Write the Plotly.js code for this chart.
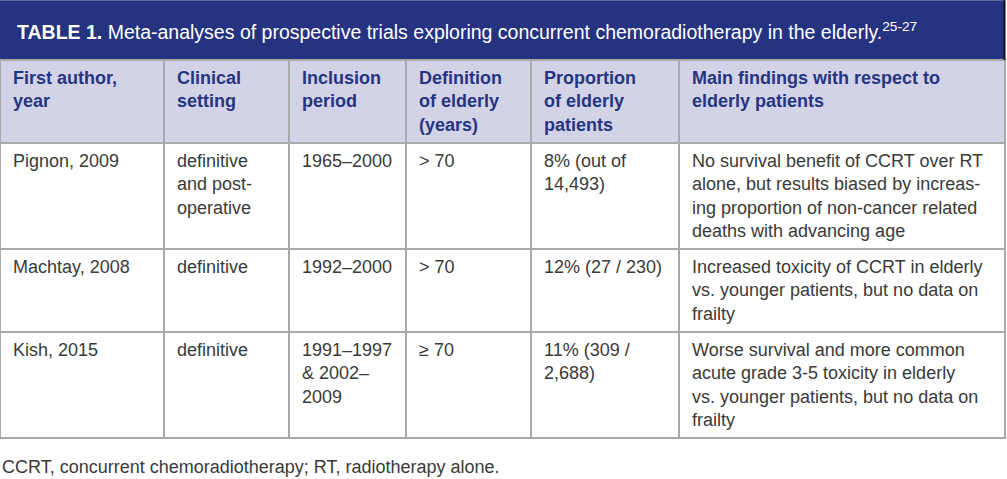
<!DOCTYPE html>
<html>
<head>
<meta charset="utf-8">
<script src="https://cdn.plot.ly/plotly-3.0.1.min.js"></script>
<style>
html,body{margin:0;padding:0;background:#fff;}
#chart{width:1007px;height:479px;}
</style>
</head>
<body>
<div id="chart"></div>
<script>
// ---- data ----
var titleLabel = "TABLE 1.";
var titleText = "Meta-analyses of prospective trials exploring concurrent chemoradiotherapy in the elderly.";
var titleRefs = "25-27";
var footnote = "CCRT, concurrent chemoradiotherapy; RT, radiotherapy alone.";

var headers = [
  "First author,<br>year",
  "Clinical<br>setting",
  "Inclusion<br>period",
  "Definition<br>of elderly<br>(years)",
  "Proportion<br>of elderly<br>patients",
  "Main findings with respect to<br>elderly patients"
];
var authors = ["Pignon, 2009", "Machtay, 2008", "Kish, 2015"];
var settings = ["definitive<br>and post-<br>operative", "definitive", "definitive"];
var periods = ["1965–2000", "1992–2000", "1991–1997<br>& 2002–<br>2009"];
var definitions = ["> 70", "> 70", "≥ 70"];
var proportions = ["8% (out of<br>14,493)", "12% (27 / 230)", "11% (309 /<br>2,688)"];
var findings = [
  "No survival benefit of CCRT over RT<br>alone, but results biased by increas-<br>ing proportion of non-cancer related<br>deaths with advancing age",
  "Increased toxicity of CCRT in elderly<br>vs. younger patients, but no data on<br>frailty",
  "Worse survival and more common<br>acute grade 3-5 toxicity in elderly<br>vs. younger patients, but no data on<br>frailty"
];
var columnWidths = [164, 125, 117, 125, 148, 326];

// ---- build ----
var W = 1007, H = 479;
function pad(s) {
  var lines = s.split("<br>").map(function (l) { return "\u00a0" + l; });
  if (lines.length === 1) lines.push("\u00a0"); // keep all cells laid out as multi-line text
  return lines.join("<br>");
}
var columns = [authors, settings, periods, definitions, proportions, findings].map(function (c) { return c.map(pad); });
var FONT = "Liberation Sans, Arial, Helvetica, sans-serif";

var trace = {
  type: "table",
  domain: { x: [0, 1005 / W], y: [0, 1 - 60 / H] },
  columnwidth: columnWidths,
  header: {
    values: headers.map(pad),
    align: "left",
    fill: { color: "#d3d3e8" },
    line: { color: "#a9a9a9", width: 1.5 },
    font: { family: FONT, size: 18, color: "#26357f", weight: "bold" },
    height: 30
  },
  cells: {
    values: columns,
    align: "left",
    fill: { color: "#ffffff" },
    line: { color: "#a9a9a9", width: 1.5 },
    font: { family: FONT, size: 18, color: "#3a3a3a" },
    height: 30
  }
};

var layout = {
  width: W, height: H,
  margin: { l: 0, r: 0, t: 0, b: 0 },
  paper_bgcolor: "#ffffff",
  showlegend: false,
  shapes: [
    { type: "rect", xref: "paper", yref: "paper", x0: 0, x1: 1004 / W, y0: 1 - 60 / H, y1: 1,
      fillcolor: "#253380", line: { width: 0 }, layer: "below" },
    { type: "line", xref: "paper", yref: "paper", x0: 0, x1: 1004 / W, y0: 1 - 0.5 / H, y1: 1 - 0.5 / H,
      line: { color: "#5d689f", width: 1 } },
    { type: "line", xref: "paper", yref: "paper", x0: 1004.5 / W, x1: 1004.5 / W, y0: 1 - 60 / H, y1: 1,
      line: { color: "#111111", width: 2 } }
  ],
  annotations: [
    { xref: "paper", yref: "paper", x: 15 / W, y: 1 - 31 / H, xanchor: "left", yanchor: "middle",
      showarrow: false, align: "left",
      text: "<b>" + titleLabel + "</b> " + titleText + "<sup>" + titleRefs + "</sup>",
      font: { family: FONT, size: 19.5, color: "#ffffff" } },
    { xref: "paper", yref: "paper", x: 0, y: 1 - 467 / H, xanchor: "left", yanchor: "middle",
      showarrow: false, align: "left", text: footnote,
      font: { family: FONT, size: 18, color: "#3a3a3a" } }
  ]
};

Plotly.newPlot("chart", [trace], layout, { displayModeBar: false, staticPlot: true });
</script>
</body>
</html>
